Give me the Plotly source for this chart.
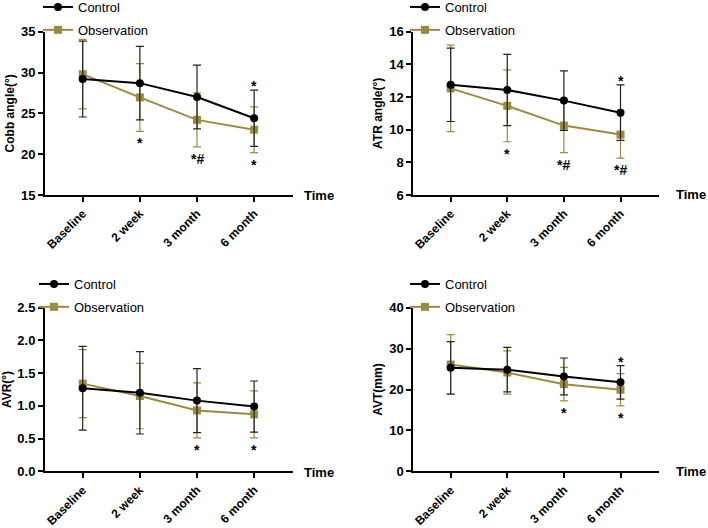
import plotly.graph_objects as go

# ---------------- data ----------------
timepoints = ["Baseline", "2 week", "3 month", "6 month"]
series_names = ["Control", "Observation"]

# Panel 1: Cobb angle
cobb_ctrl_mean = [29.2, 28.7, 27.0, 24.4]
cobb_ctrl_sd = [4.65, 4.5, 3.9, 3.45]
cobb_obs_mean = [29.8, 26.95, 24.2, 23.0]
cobb_obs_sd = [4.25, 4.15, 3.3, 2.8]
cobb_marks_above = ["", "", "", "*"]
cobb_marks_below = ["", "*", "*#", "*"]

# Panel 2: ATR angle
atr_ctrl_mean = [12.75, 12.43, 11.78, 11.04]
atr_ctrl_sd = [2.25, 2.18, 1.82, 1.7]
atr_obs_mean = [12.53, 11.46, 10.25, 9.7]
atr_obs_sd = [2.65, 2.2, 1.66, 1.44]
atr_marks_above = ["", "", "", "*"]
atr_marks_below = ["", "*", "*#", "*#"]

# Panel 3: AVR
avr_ctrl_mean = [1.27, 1.20, 1.08, 0.99]
avr_ctrl_sd = [0.64, 0.63, 0.49, 0.39]
avr_obs_mean = [1.34, 1.15, 0.93, 0.87]
avr_obs_sd = [0.52, 0.50, 0.42, 0.36]
avr_marks_above = ["", "", "", ""]
avr_marks_below = ["", "", "*", "*"]

# Panel 4: AVT
avt_ctrl_mean = [25.3, 24.85, 23.2, 21.75]
avt_ctrl_sd = [6.4, 5.45, 4.5, 4.1]
avt_obs_mean = [26.1, 24.15, 21.3, 19.95]
avt_obs_sd = [7.3, 5.3, 4.1, 3.95]
avt_marks_above = ["", "", "", "*"]
avt_marks_below = ["", "", "*", "*"]

y_titles = ["Cobb angle(°)", "ATR angle(°)", "AVR(°)", "AVT(mm)"]
y_ticks = [[15, 20, 25, 30, 35], [6, 8, 10, 12, 14, 16],
           [0.0, 0.5, 1.0, 1.5, 2.0, 2.5], [0, 10, 20, 30, 40]]
y_ranges = [[15, 35], [6, 16], [0, 2.5], [0, 40]]
y_formats = ["d", "d", ".1f", "d"]
x_label = "Time"

panels = [
    (cobb_ctrl_mean, cobb_ctrl_sd, cobb_obs_mean, cobb_obs_sd, cobb_marks_above, cobb_marks_below),
    (atr_ctrl_mean, atr_ctrl_sd, atr_obs_mean, atr_obs_sd, atr_marks_above, atr_marks_below),
    (avr_ctrl_mean, avr_ctrl_sd, avr_obs_mean, avr_obs_sd, avr_marks_above, avr_marks_below),
    (avt_ctrl_mean, avt_ctrl_sd, avt_obs_mean, avt_obs_sd, avt_marks_above, avt_marks_below),
]

# ---------------- style / layout ----------------
W, H = 708, 528
FONT = "Liberation Sans, Arial, Helvetica, sans-serif"
CTRL_COLOR = "#000000"
OBS_COLOR = "#9C8B3C"

# plot-area pixel boxes: (left, right, top, bottom)
boxes = [(45, 293, 31.7, 195), (413.3, 659, 31.7, 195),
         (45, 293, 307.7, 471.3), (413.3, 659, 307.7, 471.3)]
legend_pos = [(38, -8), (405, -8), (34, 269), (405, 269)]
time_pos = [(302, 195), (674, 194), (302, 472), (674, 471)]

fig = go.Figure()
layout = dict(
    width=W, height=H,
    margin=dict(l=0, r=0, t=0, b=0, autoexpand=False),
    paper_bgcolor="white", plot_bgcolor="white",
    font=dict(family=FONT, color="black"),
    annotations=[],
)

for k, (cm, cs, om, osd, above, below) in enumerate(panels):
    n = "" if k == 0 else str(k + 1)
    xa, ya = "x" + n, "y" + n
    leg = "legend" + n

    fig.add_trace(go.Scatter(
        x=timepoints, y=om, name=series_names[1], mode="lines+markers",
        xaxis=xa, yaxis=ya, legend=leg, legendgroup="obs" + n, legendrank=2,
        line=dict(color=OBS_COLOR, width=2),
        marker=dict(symbol="square", size=8, color=OBS_COLOR),
        error_y=dict(type="data", array=osd, visible=True, color=OBS_COLOR,
                     thickness=1.2, width=4),
        cliponaxis=False,
    ))
    fig.add_trace(go.Scatter(
        x=timepoints, y=cm, name=series_names[0], mode="lines+markers",
        xaxis=xa, yaxis=ya, legend=leg, legendgroup="ctrl" + n, legendrank=1,
        line=dict(color=CTRL_COLOR, width=2),
        marker=dict(symbol="circle", size=8, color=CTRL_COLOR),
        error_y=dict(type="data", array=cs, visible=True, color="#222222",
                     thickness=1.2, width=4),
        cliponaxis=False,
    ))

    l, r, t, b = boxes[k]
    layout["xaxis" + n] = dict(
        domain=[l / W, r / W], anchor=ya, type="category",
        range=[-0.66, 3.68], showline=True, linecolor="black", linewidth=2,
        ticks="outside", ticklen=5, tickwidth=2, tickcolor="black",
        tickangle=-45, showgrid=False, zeroline=False, automargin=False,
        tickfont=dict(family=FONT, size=12, color="black", weight="bold"),
    )
    layout["yaxis" + n] = dict(
        domain=[1 - b / H, 1 - t / H], anchor=xa,
        range=y_ranges[k], tickvals=y_ticks[k], tickformat=y_formats[k],
        showline=True, linecolor="black", linewidth=2,
        ticks="outside", ticklen=5, tickwidth=2, tickcolor="black",
        showgrid=False, zeroline=False, automargin=False,
        tickfont=dict(family=FONT, size=13, color="black", weight="bold"),
        title=dict(text=y_titles[k], standoff=4,
                   font=dict(family=FONT, size=12, color="black", weight="bold")),
    )
    lx, ly = legend_pos[k]
    layout[leg] = dict(
        x=lx / W, y=1 - ly / H, xanchor="left", yanchor="top",
        bgcolor="rgba(0,0,0,0)", borderwidth=0,
        font=dict(family=FONT, size=13, color="black"),
        traceorder="grouped", tracegroupgap=3, itemwidth=30,
    )

    # x-axis label "Time"
    tx, ty = time_pos[k]
    layout["annotations"].append(dict(
        text=x_label, xref="paper", yref="paper", x=tx / W, y=1 - ty / H,
        xanchor="left", yanchor="middle", showarrow=False,
        font=dict(family=FONT, size=13, color="black", weight="bold"),
    ))

    # significance marks
    for i, tp in enumerate(timepoints):
        if below[i]:
            low = min(cm[i] - cs[i], om[i] - osd[i])
            layout["annotations"].append(dict(
                text=below[i], xref=xa, yref=ya, x=tp, y=low,
                xanchor="center", yanchor="top", yshift=-2, showarrow=False,
                font=dict(family=FONT, size=14, color="black", weight="bold"),
            ))
        if above[i]:
            high = max(cm[i] + cs[i], om[i] + osd[i])
            layout["annotations"].append(dict(
                text=above[i], xref=xa, yref=ya, x=tp, y=high,
                xanchor="center", yanchor="bottom", yshift=-6, showarrow=False,
                font=dict(family=FONT, size=14, color="black", weight="bold"),
            ))

fig.update_layout(**layout)
fig.write_html("out.html")
